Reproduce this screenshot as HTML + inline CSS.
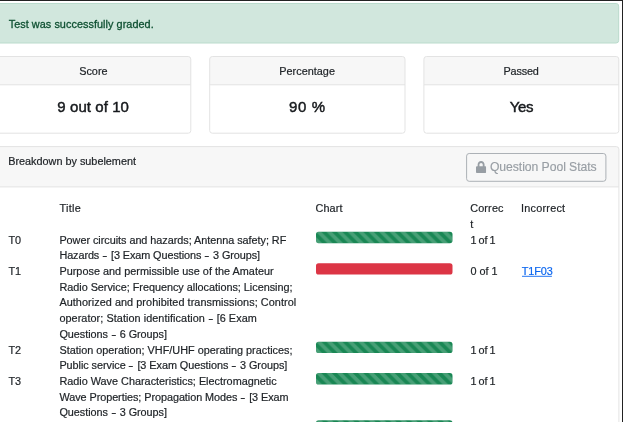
<!DOCTYPE html>
<html><head><meta charset="utf-8">
<style>
html,body{margin:0;padding:0;}
body{width:623px;height:422px;overflow:hidden;background:#fff;position:relative;font-family:"Liberation Sans",sans-serif;font-size:10.85px;color:#212529;line-height:15.7px;}
.abs{position:absolute;}
.hy{letter-spacing:0.7px;}
.hy i{display:inline-block;font-style:normal;transform:scaleX(1.4);}
.t{position:absolute;white-space:nowrap;-webkit-text-stroke:0.2px;}
.topline{left:0;top:0;width:623px;height:1px;background:#222;}
.rightline{left:622px;top:0;width:1px;height:422px;background:#222;}
.ch{position:absolute;white-space:nowrap;transform:translateX(-50%);-webkit-text-stroke:0.2px;}
.cb{position:absolute;white-space:nowrap;transform:translateX(-50%);font-size:15px;line-height:18px;color:#16191c;-webkit-text-stroke:0.45px #16191c;}
#wrap{position:absolute;left:0;top:0;width:623px;height:422px;will-change:transform;}
</style></head><body><div id="wrap">
<div class="abs topline"></div>
<svg class="abs" style="left:0;top:0" width="623" height="422" viewBox="0 0 623 422">
<defs><pattern id="st" width="10.5" height="10.5" patternUnits="userSpaceOnUse"><path d="M0 10.500V5.250L5.250 10.500ZM0 0H5.250L10.500 5.250V10.500Z" fill="#fff" fill-opacity="0.2"/></pattern></defs>

<rect x="-4.500" y="3.500" width="623.200" height="39.500" rx="2.600" fill="#d1e7dd" stroke="#badbcc"/>
<path d="M-4.5 84.800V59.100a2.600 2.600 0 0 1 2.600 -2.600H188.20000000000002a2.600 2.600 0 0 1 2.600 2.600V84.800Z" fill="#f7f7f7"/><rect x="-4.5" y="56.500" width="195.30" height="76.700" rx="2.600" fill="none" stroke="#e3e3e3"/><path d="M-4.5 84.800H190.8" stroke="#e3e3e3"/>
<path d="M209.7 84.800V59.100a2.600 2.600 0 0 1 2.600 -2.600H402.4a2.600 2.600 0 0 1 2.600 2.600V84.800Z" fill="#f7f7f7"/><rect x="209.7" y="56.500" width="195.30" height="76.700" rx="2.600" fill="none" stroke="#e3e3e3"/><path d="M209.7 84.800H405.0" stroke="#e3e3e3"/>
<path d="M423.9 84.800V59.100a2.600 2.600 0 0 1 2.600 -2.600H616.1999999999999a2.600 2.600 0 0 1 2.600 2.600V84.800Z" fill="#f7f7f7"/><rect x="423.9" y="56.500" width="194.90" height="76.700" rx="2.600" fill="none" stroke="#e3e3e3"/><path d="M423.9 84.800H618.8" stroke="#e3e3e3"/>

<path d="M-4.500 186.900V149.200a2.600 2.600 0 0 1 2.600 -2.600H616.300a2.600 2.600 0 0 1 2.600 2.600V186.900Z" fill="#f7f7f7"/>
<path d="M-4.500 430V149.200a2.600 2.600 0 0 1 2.600 -2.600H616.300a2.600 2.600 0 0 1 2.600 2.600V430M-4.500 186.900H618.900" fill="none" stroke="#e3e3e3"/>
<rect x="466.600" y="153.500" width="139.300" height="27.800" rx="2.600" fill="none" stroke="#acb1b6"/>
<path d="M522 276.300H551.900" stroke="#0b66ef" stroke-width="0.900"/>
<svg x="476" y="161" width="10.200" height="12" viewBox="0 0 448 512" preserveAspectRatio="none"><path fill="#989ea4" d="M400 224h-24v-72C376 68.2 307.8 0 224 0S72 68.2 72 152v72H48c-26.500 0-48 21.500-48 48v192c0 26.500 21.500 48 48 48h352c26.500 0 48-21.500 48-48V272c0-26.500-21.500-48-48-48zm-104 0H152v-72c0-39.700 32.300-72 72-72s72 32.300 72 72v72z"/></svg>
<g transform="translate(316,231.80)"><rect width="136.5" height="11.4" rx="2.6" fill="#198754"/><rect width="136.5" height="11.4" rx="2.6" fill="url(#st)"/></g>
<g transform="translate(316,263.20)"><rect width="136.5" height="11.4" rx="2.6" fill="#dc3545"/></g>
<g transform="translate(316,341.70)"><rect width="136.5" height="11.4" rx="2.6" fill="#198754"/><rect width="136.5" height="11.4" rx="2.6" fill="url(#st)"/></g>
<g transform="translate(316,373.10)"><rect width="136.5" height="11.4" rx="2.6" fill="#198754"/><rect width="136.5" height="11.4" rx="2.6" fill="url(#st)"/></g>
<g transform="translate(316,420.20)"><rect width="136.5" height="11.4" rx="2.6" fill="#198754"/><rect width="136.5" height="11.4" rx="2.6" fill="url(#st)"/></g>
</svg>
<span id="alert" class="t" style="left:8.7px;top:17px;color:#0f5132;-webkit-text-stroke:0.3px;letter-spacing:0.055px">Test was successfully graded.</span>
<span id="h1" class="ch" style="left:93.4px;top:64px;letter-spacing:0.018px">Score</span>
<span id="h2" class="ch" style="left:307.1px;top:64px;letter-spacing:0.026px">Percentage</span>
<span id="h3" class="ch" style="left:521.1px;top:64px;letter-spacing:-0.134px">Passed</span>
<span id="b1" class="cb" style="left:93.2px;top:98px;letter-spacing:0.069px">9 out of 10</span>
<span id="b2" class="cb" style="left:307.4px;top:98px;letter-spacing:0.699px">90 %</span>
<span id="b3" class="cb" style="left:521.5px;top:98px;letter-spacing:-0.242px">Yes</span>
<span id="bk" class="t" style="left:8.2px;top:154px;letter-spacing:0.000px">Breakdown by subelement</span>
<span id="btnt" class="t" style="left:489.900px;top:158.500px;color:#989ea4;font-size:12.200px;line-height:16px;-webkit-text-stroke:0.15px;letter-spacing:-0.051px">Question Pool Stats</span>
<span id="L1" class="t" style="left:59.40px;top:233.00px;letter-spacing:-0.034px;">Power circuits and hazards; Antenna safety; RF</span>
<span id="L2" class="t" style="left:59.40px;top:248.00px;letter-spacing:-0.079px;">Hazards<span class="hy"> <i>-</i> </span>[3 Exam Questions<span class="hy"> <i>-</i> </span>3 Groups]</span>
<span id="L3" class="t" style="left:59.40px;top:264.00px;letter-spacing:0.022px;">Purpose and permissible use of the Amateur</span>
<span id="L4" class="t" style="left:59.40px;top:280.00px;letter-spacing:-0.016px;">Radio Service; Frequency allocations; Licensing;</span>
<span id="L5" class="t" style="left:59.40px;top:295.00px;letter-spacing:0.062px;">Authorized and prohibited transmissions; Control</span>
<span id="L6" class="t" style="left:59.40px;top:311.00px;letter-spacing:0.063px;">operator; Station identification<span class="hy"> <i>-</i> </span>[6 Exam</span>
<span id="L7" class="t" style="left:59.40px;top:327.00px;letter-spacing:-0.035px;">Questions<span class="hy"> <i>-</i> </span>6 Groups]</span>
<span id="L8" class="t" style="left:59.40px;top:343.00px;letter-spacing:0.010px;">Station operation; VHF/UHF operating practices;</span>
<span id="L9" class="t" style="left:59.40px;top:358.00px;letter-spacing:-0.045px;">Public service<span class="hy"> <i>-</i> </span>[3 Exam Questions<span class="hy"> <i>-</i> </span>3 Groups]</span>
<span id="L10" class="t" style="left:59.40px;top:374.00px;letter-spacing:0.003px;">Radio Wave Characteristics; Electromagnetic</span>
<span id="L11" class="t" style="left:59.40px;top:390.00px;letter-spacing:-0.054px;">Wave Properties; Propagation Modes<span class="hy"> <i>-</i> </span>[3 Exam</span>
<span id="L12" class="t" style="left:59.40px;top:405.00px;letter-spacing:-0.035px;">Questions<span class="hy"> <i>-</i> </span>3 Groups]</span>
<span id="hTitle" class="t" style="left:59.60px;top:201.00px;letter-spacing:0.277px;">Title</span>
<span id="hChart" class="t" style="left:315.50px;top:201.00px;letter-spacing:0.117px;">Chart</span>
<span id="hCorrec" class="t" style="left:470.20px;top:201.00px;letter-spacing:0.151px;">Correc</span>
<span id="hT" class="t" style="left:470.20px;top:217.00px;letter-spacing:0.000px;">t</span>
<span id="hInc" class="t" style="left:521.00px;top:201.00px;letter-spacing:0.239px;">Incorrect</span>
<span id="T0" class="t" style="left:8.50px;top:233.00px;letter-spacing:0.000px;">T0</span>
<span id="C0" class="t" style="left:470.50px;top:233.00px;letter-spacing:0.000px;word-spacing:-1.1px;">1 of 1</span>
<span id="T1" class="t" style="left:8.50px;top:264.00px;letter-spacing:0.000px;">T1</span>
<span id="C1" class="t" style="left:470.50px;top:264.00px;letter-spacing:0.000px;">0 of 1</span>
<span id="T2" class="t" style="left:8.50px;top:343.00px;letter-spacing:0.000px;">T2</span>
<span id="C2" class="t" style="left:470.50px;top:343.00px;letter-spacing:0.000px;word-spacing:-1.1px;">1 of 1</span>
<span id="T3" class="t" style="left:8.50px;top:374.00px;letter-spacing:0.000px;">T3</span>
<span id="C3" class="t" style="left:470.50px;top:374.00px;letter-spacing:0.000px;word-spacing:-1.1px;">1 of 1</span>
<span id="lnk" class="t" style="left:521.80px;top:264.00px;letter-spacing:-0.111px;color:#0b66ef;">T1F03</span>
<div class="abs rightline"></div>
</div></body></html>
